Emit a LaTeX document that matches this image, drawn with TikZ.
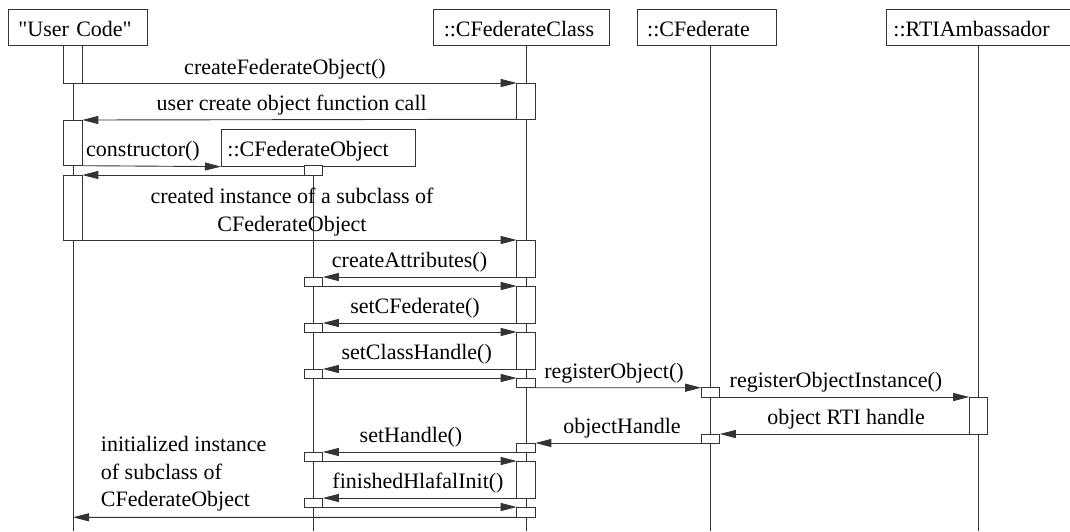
\documentclass[tikz,border=0pt]{standalone}
\usepackage{fontspec}
\setmainfont{Liberation Serif}[Ligatures=TeXOff]
\usetikzlibrary{arrows.meta}
\begin{document}
\begin{tikzpicture}[x=1pt,y=-1pt,
  every node/.style={font=\fontsize{22pt}{27.5pt}\selectfont},
  line/.style={draw=black!80, line width=0.9pt},
  head/.style={line, fill=white, anchor=north west, minimum height=36.5pt,
    inner ysep=0pt, text height=18pt, text depth=0pt, align=left},
  life/.style={line},
  act/.style={line, fill=white, inner sep=0pt, outer sep=0pt, minimum width=18.6pt},
  msg/.style={line, -{Triangle[length=16pt,width=8pt]}},
  lbl/.style={anchor=base, inner sep=0pt}]
\useasboundingbox (0,0) rectangle (1070,531);

% object headers
\node[head, text width=119pt, inner xsep=10pt] (uc) at (8,8.5) {"User Code"};
\node[head, text width=156pt, inner xsep=10pt] (fc) at (433.3,8.5) {::CFederateClass};
\node[head, text width=119.3pt, inner xsep=10pt] (fed) at (636.7,8.5) {::CFederate};
\node[head, text width=169.5pt, inner xsep=7pt] (rti) at (886,8.5) {::RTIAmbassador};

% lifeline ends
\coordinate (ucB) at (73,531);
\coordinate (fcB) at (526,531);
\coordinate (fedB) at (710.5,531);
\coordinate (rtiB) at (978.5,531);
\coordinate (foB) at (313.5,531);
\coordinate (ucEnd) at (73,517.3);

% lifelines
\draw[life] (uc.south -| ucB) -- (ucB);
\draw[life] (fc.south -| fcB) -- (fcB);
\draw[life] (fed.south -| fedB) -- (fedB);
\draw[life] (rti.south -| rtiB) -- (rtiB);
\draw[life] (313.5,165.7) coordinate (foTop) -- (foB);

% created object
\node[head, text width=182.3pt, inner xsep=6pt, minimum height=36.4pt] (fo) at (221,129.3) {::CFederateObject};

% activations: "User Code"
\node[act, minimum height=38pt]   (uA1) at (73,64) {};
\node[act, minimum height=45.7pt] (uA2) at (73,142.85) {};
\node[act, minimum height=65pt]   (uA3) at (73,207.5) {};
% activations: ::CFederateClass
\node[act, minimum height=36.3pt] (cA1) at (526,101.15) {};
\node[act, minimum height=37pt]   (cA2) at (526,258.5) {};
\node[act, minimum height=37pt]   (cA3) at (526,304.5) {};
\node[act, minimum height=37pt]   (cA4) at (526,350.5) {};
\node[act, minimum height=9.7pt]  (cA5) at (526,382.85) {};
\node[act, minimum height=9pt]    (cA6) at (526,447.5) {};
\node[act, minimum height=37pt]   (cA7) at (526,479.5) {};
\node[act, minimum height=10.3pt] (cA8) at (526,512.15) {};
% activations: ::CFederateObject
\node[act, minimum height=9.3pt] (oA0) at (313.5,170.35) {};
\node[act, minimum height=9pt]   (oA1) at (313.5,281.5) {};
\node[act, minimum height=9pt]   (oA2) at (313.5,327.5) {};
\node[act, minimum height=9pt]   (oA3) at (313.5,373.5) {};
\node[act, minimum height=9pt]   (oA4) at (313.5,456.5) {};
\node[act, minimum height=9pt]   (oA5) at (313.5,502.5) {};
% activations: ::CFederate
\node[act, minimum height=9.3pt] (dA1) at (710.5,392.35) {};
\node[act, minimum height=9pt]   (dA2) at (710.5,438.5) {};
% activations: ::RTIAmbassador
\node[act, minimum height=37pt]  (rA1) at (978.5,415.5) {};

% messages
\draw[msg] (uA1.south east) -- (cA1.north west);
\node[lbl] (t1) at (285,74) {createFederateObject()};
\draw[msg] (cA1.south west) -- (uA2.north east);
\node[lbl] (t2) at (291.7,110) {user create object function call};
\draw[msg] (uA2.south east) -- (fo.south west);
\node[lbl] (t3) at (143,156.5) {constructor()};
\draw[msg] (oA0.south west) -- (uA3.north east);
\draw[msg] (uA3.south east) -- (cA2.north west);
\node[lbl, align=center] (t4) at (292,231) {created instance of a subclass of\\CFederateObject};
\draw[msg] (cA2.south west) -- (oA1.north east);
\node[lbl] (t5) at (409.5,267) {createAttributes()};
\draw[msg] (oA1.south east) -- (cA3.north west);
\draw[msg] (cA3.south west) -- (oA2.north east);
\node[lbl] (t6) at (415,313) {setCFederate()};
\draw[msg] (oA2.south east) -- (cA4.north west);
\draw[msg] (cA4.south west) -- (oA3.north east);
\node[lbl] (t7) at (416.7,359) {setClassHandle()};
\draw[msg] (oA3.south east) -- (cA5.north west);
\draw[msg] (cA5.south east) -- (dA1.north west);
\node[lbl] (t8) at (614,378) {registerObject()};
\draw[msg] (dA1.south east) -- (rA1.north west);
\node[lbl] (t9) at (836,387.5) {registerObjectInstance()};
\draw[msg] (rA1.south west) -- (dA2.north east);
\node[lbl] (t10) at (846,424) {object RTI handle};
\draw[msg] (dA2.south west) -- (cA6.north east);
\node[lbl] (t11) at (622,433.5) {objectHandle};
\draw[msg] (cA6.south west) -- (oA4.north east);
\node[lbl] (t12) at (411,442) {setHandle()};
\draw[msg] (oA4.south east) -- (cA7.north west);
\draw[msg] (cA7.south west) -- (oA5.north east);
\node[lbl] (t13) at (418,488) {finishedHlafalInit()};
\draw[msg] (oA5.south east) -- (cA8.north west);
\draw[msg] (cA8.south west) -- (ucEnd);
\node[lbl, anchor=base west, align=left] (t14) at (100.7,506.7) {initialized instance\\of subclass of\\CFederateObject};
\end{tikzpicture}
\end{document}
